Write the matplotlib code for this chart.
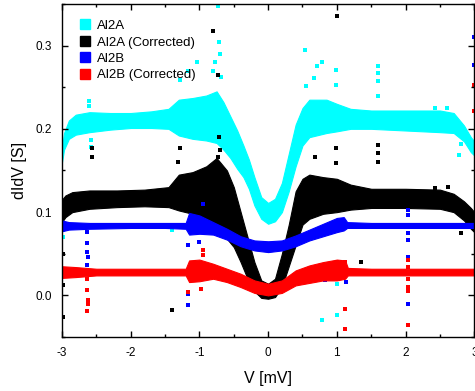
import numpy as np
import matplotlib.pyplot as plt

plt.rcParams['font.family'] = ['Liberation Sans', 'DejaVu Sans']
plt.rcParams['axes.unicode_minus'] = False

# band envelopes (lower / upper), V in mV, dI/dV in S
# Al2A
v_a = [-3.0, -2.97, -2.9, -2.8, -2.6, -2.3, -2.0, -1.7, -1.45, -1.3, -1.1, -0.9, -0.75, -0.65,
       -0.55, -0.45, -0.36, -0.28, -0.2, -0.1, 0.0, 0.1, 0.2, 0.3, 0.4, 0.5, 0.6, 0.85, 1.0,
       1.2, 1.5, 2.0, 2.5, 2.7, 2.85, 2.95, 3.0]
lo_a = [0.160, 0.175, 0.188, 0.193, 0.196, 0.199, 0.201, 0.201, 0.200, 0.192, 0.188, 0.186, 0.183, 0.175,
        0.165, 0.152, 0.142, 0.128, 0.108, 0.092, 0.086, 0.089, 0.100, 0.125, 0.155, 0.180, 0.190, 0.195, 0.197,
        0.200, 0.200, 0.198, 0.196, 0.195, 0.185, 0.172, 0.168]
hi_a = [0.178, 0.195, 0.210, 0.217, 0.220, 0.219, 0.219, 0.221, 0.224, 0.235, 0.237, 0.240, 0.245, 0.232,
        0.215, 0.198, 0.180, 0.163, 0.142, 0.118, 0.111, 0.116, 0.135, 0.170, 0.205, 0.225, 0.235, 0.235, 0.230,
        0.224, 0.222, 0.222, 0.222, 0.219, 0.204, 0.190, 0.185]

# Al2A (Corrected)
v_ac = [-3.0, -2.95, -2.85, -2.6, -2.2, -1.8, -1.45, -1.3, -1.1, -0.9, -0.75, -0.6, -0.5, -0.4,
        -0.3, -0.2, -0.1, 0.0, 0.1, 0.2, 0.3, 0.4, 0.5, 0.6, 0.8, 1.0, 1.2, 1.5, 2.0, 2.5, 2.7,
        2.85, 2.95, 3.0]
lo_ac = [0.088, 0.094, 0.100, 0.104, 0.106, 0.107, 0.106, 0.102, 0.098, 0.092, 0.080, 0.068, 0.058, 0.040,
         0.020, 0.005, -0.003, -0.004, -0.002, 0.010, 0.035, 0.060, 0.085, 0.092, 0.098, 0.100, 0.103, 0.105,
         0.105, 0.104, 0.100, 0.090, 0.080, 0.076]
hi_ac = [0.115, 0.120, 0.124, 0.126, 0.126, 0.127, 0.130, 0.145, 0.148, 0.155, 0.165, 0.150, 0.130, 0.100,
         0.070, 0.040, 0.018, 0.014, 0.020, 0.050, 0.085, 0.125, 0.140, 0.145, 0.142, 0.140, 0.133, 0.128,
         0.128, 0.127, 0.122, 0.113, 0.105, 0.100]

# Al2B
v_b = [-3.0, -2.9, -2.6, -2.0, -1.5, -1.2, -1.15, -1.0, -0.8, -0.6, -0.4, -0.2, 0.0, 0.2, 0.4,
       0.6, 0.8, 1.0, 1.1, 1.15, 1.5, 2.0, 2.5, 3.0]
lo_b = [0.077, 0.079, 0.080, 0.081, 0.081, 0.080, 0.073, 0.074, 0.073, 0.067, 0.059, 0.054, 0.052, 0.054, 0.059,
        0.066, 0.071, 0.076, 0.078, 0.081, 0.081, 0.081, 0.081, 0.081]
hi_b = [0.090, 0.088, 0.087, 0.087, 0.087, 0.087, 0.099, 0.096, 0.088, 0.080, 0.071, 0.066, 0.065, 0.066, 0.072,
        0.079, 0.086, 0.093, 0.094, 0.088, 0.087, 0.087, 0.087, 0.087]

# Al2B (Corrected)
v_bc = [-3.0, -2.8, -2.5, -1.2, -1.15, -1.0, -0.8, -0.6, -0.4, -0.2, 0.0, 0.2, 0.4, 0.6, 0.8,
        1.0, 1.12, 1.16, 1.5, 3.0]
lo_bc = [0.021, 0.022, 0.024, 0.024, 0.016, 0.017, 0.020, 0.016, 0.010, 0.003, 0.000, 0.003, 0.012, 0.015,
         0.018, 0.018, 0.020, 0.024, 0.024, 0.024]
hi_bc = [0.035, 0.034, 0.032, 0.032, 0.042, 0.043, 0.038, 0.032, 0.026, 0.018, 0.014, 0.018, 0.030, 0.036,
         0.040, 0.043, 0.042, 0.033, 0.032, 0.032]

# stray points outside the bands
out_a_v = [-2.6, -2.6, -2.58, -2.58, -1.28, -1.16, -1.03, -0.8, -0.77, -0.73, -0.72, -0.70, -0.68,
           0.54, 0.55, 0.67, 0.71, 0.79, 0.99, 0.99, 1.6, 1.6, 1.6, 1.6, 2.43, 2.61, 2.78, 2.8,
           -1.4, -0.77, -1.4, 0.79, 0.79, 1.0, 1.0, -2.98, -2.98]
out_a_y = [0.233, 0.228, 0.187, 0.178, 0.259, 0.269, 0.280, 0.270, 0.280, 0.348, 0.304, 0.290, 0.262,
           0.295, 0.252, 0.261, 0.275, 0.280, 0.271, 0.253, 0.276, 0.267, 0.257, 0.240, 0.225, 0.225, 0.169, 0.182,
           0.120, 0.118, 0.078, 0.020, -0.030, 0.014, -0.024, 0.070, 0.078]

out_ac_v = [-2.56, -2.56, -1.31, -1.28, -0.8, -0.73, -0.72, -0.70, -0.73, 1.0, 0.99, 0.99, 0.68,
            1.6, 1.6, 1.6, 2.43, 2.62, 2.8, -1.4, -2.98, -2.98, -2.98, 1.35]
out_ac_y = [0.177, 0.166, 0.160, 0.177, 0.317, 0.265, 0.190, 0.175, 0.166, 0.336, 0.177, 0.159, 0.166,
            0.181, 0.171, 0.160, 0.129, 0.130, 0.075, -0.017, -0.026, 0.050, 0.012, 0.040]

out_b_v = [-2.63, -2.63, -2.63, -2.62, -2.64, -1.17, -1.17, -1.17, -1.0, -0.95, 0.83, 1.12, 1.13,
           2.03, 2.03, 2.03, 2.03, 2.03, 2.03, 3.0, 3.0]
out_b_y = [0.076, 0.063, 0.052, 0.046, 0.037, 0.060, 0.002, -0.011, 0.064, 0.110, 0.018, 0.030, 0.016,
           0.102, 0.096, 0.075, 0.066, 0.046, -0.010, 0.310, 0.277]

out_bc_v = [-2.63, -2.63, -2.62, -2.62, -2.64, -1.17, -0.95, -0.95, -0.97, 1.0, 1.12, 1.12, 1.12,
            2.03, 2.03, 2.04, 2.03, 2.04, 2.03, 3.0, 3.0]
out_bc_y = [0.020, 0.006, -0.005, -0.010, -0.019, 0.004, 0.055, 0.049, 0.008, 0.040, 0.040, -0.016, -0.040,
            0.042, 0.034, 0.020, 0.010, 0.005, -0.036, 0.253, 0.222]

series = [
    ('Al2A', '#00ffff', v_a, lo_a, hi_a, out_a_v, out_a_y),
    ('Al2A (Corrected)', '#000000', v_ac, lo_ac, hi_ac, out_ac_v, out_ac_y),
    ('Al2B', '#0000ff', v_b, lo_b, hi_b, out_b_v, out_b_y),
    ('Al2B (Corrected)', '#ff0000', v_bc, lo_bc, hi_bc, out_bc_v, out_bc_y),
]

fig = plt.figure(figsize=(4.75, 3.91), dpi=100)
ax = fig.add_axes([0.1305, 0.138, 0.868, 0.852])

handles = []
for name, col, v, lo, hi, ov, oy in series:
    ax.fill_between(v, lo, hi, color=col, lw=0.8, edgecolor=col)
    ax.scatter(ov, oy, s=5, marker='s', color=col, lw=0)
    h, = ax.plot([], [], 's', color=col, ms=7.5, label=name)
    handles.append(h)

ax.set_xlim(-3, 3)
ax.set_ylim(-0.05, 0.35)
ax.set_xticks([-3, -2, -1, 0, 1, 2, 3])
ax.set_xticks(np.arange(-3, 3.01, 0.5), minor=True)
ax.set_yticks([0.0, 0.1, 0.2, 0.3])
ax.set_yticks(np.arange(-0.05, 0.351, 0.05), minor=True)
ax.set_yticklabels(['0.0', '0.1', '0.2', '0.3'])
ax.tick_params(which='both', direction='in', top=True, right=True, labelsize=8.5, width=1)
ax.tick_params(which='major', length=4.5, pad=7)
ax.tick_params(which='minor', length=2.5)
for sp in ax.spines.values():
    sp.set_linewidth(1.0)

ax.set_xlabel('V [mV]', fontsize=11.5, labelpad=9)
ax.set_ylabel('dIdV [S]', fontsize=11.5, labelpad=6)

ax.legend(handles=handles, loc='upper left', frameon=False, fontsize=9.5,
          handlelength=0.8, handletextpad=0.5, labelspacing=0.32, borderaxespad=0.3,
          bbox_to_anchor=(0.02, 0.98))

fig.savefig('out.png', dpi=100)
